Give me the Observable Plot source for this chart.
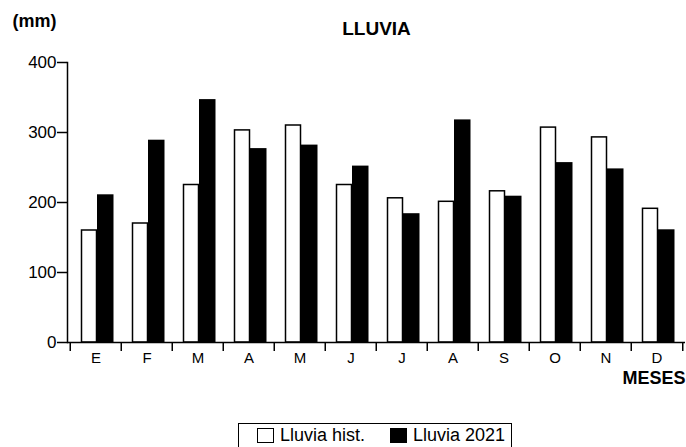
<!DOCTYPE html>
<html>
<head>
<meta charset="utf-8">
<script src="https://cdn.jsdelivr.net/npm/d3@7"></script>
<script src="https://cdn.jsdelivr.net/npm/@observablehq/plot@0.6"></script>
<style>
  html, body { margin: 0; padding: 0; background: #fff; }
  body { width: 686px; height: 447px; overflow: hidden; font-family: "Liberation Sans", Arial, sans-serif; }
  #legend {
    margin-left: 238px; margin-top: 3px; width: 274px; height: 30px;
    border: 1px solid #000; box-sizing: border-box; position: relative;
    font-size: 18px; color: #000;
  }
  #legend .sw { position: absolute; top: 4px; width: 17px; height: 15px; box-sizing: border-box; border: 1px solid #000; }
  #legend .lb { position: absolute; top: 1px; white-space: nowrap; }
</style>
</head>
<body>
<div id="chart"></div>
<div id="legend"></div>
<script>
const monthKeys = ["Ene","Feb","Mar","Abr","May","Jun","Jul","Ago","Sep","Oct","Nov","Dic"];
const monthLabels = ["E","F","M","A","M","J","J","A","S","O","N","D"];
const lluviaHist = [160, 170, 225, 303, 310, 225, 206, 201, 216, 307, 293, 191];
const lluvia2021 = [211, 289, 347, 277, 282, 252, 184, 318, 209, 257, 248, 161];
const yTicks = [0, 100, 200, 300, 400];
const seriesNames = ["Lluvia hist.", "Lluvia 2021"];

const dataHist = monthKeys.map((m, i) => ({month: m, value: lluviaHist[i]}));
const data2021 = monthKeys.map((m, i) => ({month: m, value: lluvia2021[i]}));
const labelOf = Object.fromEntries(monthKeys.map((m, i) => [m, monthLabels[i]]));

const W = 686, H = 420, ML = 67, MR = 1;
const bw = (W - ML - MR) / monthKeys.length;

const chart = Plot.plot({
  width: W, height: H,
  marginLeft: ML, marginRight: MR, marginTop: 62, marginBottom: 78,
  style: {fontFamily: "'Liberation Sans', Arial, sans-serif", color: "#000", background: "#fff"},
  x: {domain: monthKeys, padding: 0, axis: null, label: null},
  y: {domain: [0, 400], axis: null, label: null},
  marks: [
    Plot.barY(dataHist, {x: "month", y: "value", fill: "#fff", stroke: "#000", strokeWidth: 1.5,
      insetLeft: 11.5, insetRight: bw - 27}),
    Plot.barY(data2021, {x: "month", y: "value", fill: "#000",
      insetLeft: 27, insetRight: bw - 44}),
    Plot.frame({anchor: "left", stroke: "#000", strokeWidth: 1.5}),
    Plot.ruleY([0], {stroke: "#000", strokeWidth: 1.5}),
    Plot.axisY(yTicks, {anchor: "left", label: null, tickSize: 10, tickPadding: 1, fontSize: 17, stroke: "#000", strokeWidth: 1.5}),
    Plot.axisX({anchor: "bottom", label: null, tickSize: 0, tickPadding: 10, fontSize: 15, tickFormat: d => labelOf[d]}),
    Plot.axisX(monthKeys, {anchor: "bottom", label: null, tickSize: 9, tickFormat: () => "", dx: -bw / 2, stroke: "#000", strokeWidth: 1.5}),
    Plot.axisX([monthKeys[monthKeys.length - 1]], {anchor: "bottom", label: null, tickSize: 9, tickFormat: () => "", dx: bw / 2, stroke: "#000", strokeWidth: 1.5}),
    Plot.text(["LLUVIA"], {frameAnchor: "top", dy: -34, fontSize: 19, fontWeight: "bold", lineAnchor: "middle"}),
    Plot.text(["(mm)"], {frameAnchor: "top-left", textAnchor: "start", dx: -55, dy: -41, fontSize: 18, fontWeight: "bold", lineAnchor: "middle"}),
    Plot.text(["MESES"], {frameAnchor: "bottom-right", textAnchor: "end", dy: 36, fontSize: 18, fontWeight: "bold", lineAnchor: "middle"})
  ]
});
document.getElementById("chart").appendChild(chart);

const legend = document.getElementById("legend");
const items = [
  {name: seriesNames[0], fill: "#fff", sx: 18, tx: 41},
  {name: seriesNames[1], fill: "#000", sx: 151, tx: 174}
];
for (const it of items) {
  const sw = document.createElement("div");
  sw.className = "sw"; sw.style.left = it.sx + "px"; sw.style.background = it.fill;
  const lb = document.createElement("div");
  lb.className = "lb"; lb.style.left = it.tx + "px"; lb.textContent = it.name;
  legend.appendChild(sw); legend.appendChild(lb);
}
</script>
</body>
</html>
